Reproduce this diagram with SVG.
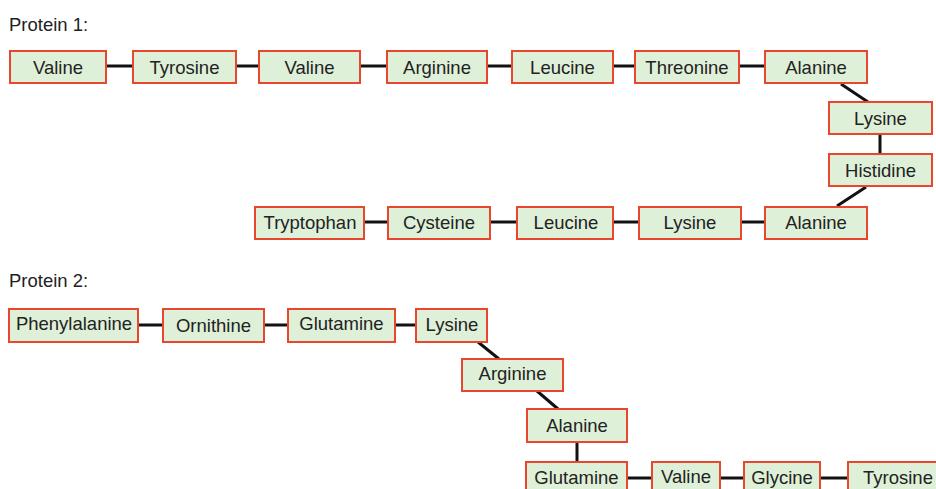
<svg xmlns="http://www.w3.org/2000/svg" width="936" height="489" viewBox="0 0 936 489">
<style>
.n rect{fill:#dff0d8;stroke:#e8472e;stroke-width:2}
.n text{font-family:"Liberation Sans",Arial,sans-serif;font-size:18.5px;fill:#222;text-anchor:middle;dominant-baseline:central}
.lbl{font-family:"Liberation Sans",Arial,sans-serif;font-size:18.5px;fill:#222}
#edges line{stroke:#111;stroke-width:3}
</style>
<rect width="936" height="489" fill="#fff"/>
<text class="lbl" x="9" y="31">Protein 1:</text>
<text class="lbl" x="9" y="287">Protein 2:</text>
<g id="edges">
<line x1="106" y1="66" x2="133" y2="66"/>
<line x1="236" y1="66" x2="259" y2="66"/>
<line x1="360" y1="66" x2="387" y2="66"/>
<line x1="487" y1="66" x2="512" y2="66"/>
<line x1="613" y1="66" x2="635" y2="66"/>
<line x1="739" y1="66" x2="765" y2="66"/>
<line x1="841" y1="84" x2="868" y2="102"/>
<line x1="880" y1="134" x2="880" y2="153"/>
<line x1="866" y1="187" x2="837" y2="206"/>
<line x1="741" y1="222" x2="765" y2="222"/>
<line x1="613" y1="222" x2="639" y2="222"/>
<line x1="490" y1="222" x2="517" y2="222"/>
<line x1="364" y1="222" x2="388" y2="222"/>
<line x1="138" y1="325" x2="163" y2="325"/>
<line x1="264" y1="325" x2="288" y2="325"/>
<line x1="395" y1="325" x2="416" y2="325"/>
<line x1="478" y1="342" x2="499" y2="359"/>
<line x1="537" y1="391" x2="558" y2="409"/>
<line x1="577" y1="442" x2="577" y2="462"/>
<line x1="627" y1="478" x2="652" y2="478"/>
<line x1="720" y1="478" x2="744" y2="478"/>
<line x1="820" y1="478" x2="848" y2="478"/>
</g>
<g id="p1-valine1" class="n"><rect x="10" y="51" width="96" height="32"/><text x="58" y="67">Valine</text></g>
<g id="p1-tyrosine" class="n"><rect x="133" y="51" width="103" height="32"/><text x="184.5" y="67">Tyrosine</text></g>
<g id="p1-valine2" class="n"><rect x="259" y="51" width="101" height="32"/><text x="309.5" y="67">Valine</text></g>
<g id="p1-arginine" class="n"><rect x="387" y="51" width="100" height="32"/><text x="437" y="67">Arginine</text></g>
<g id="p1-leucine1" class="n"><rect x="512" y="51" width="101" height="32"/><text x="562.5" y="67">Leucine</text></g>
<g id="p1-threonine" class="n"><rect x="635" y="51" width="104" height="32"/><text x="687" y="67">Threonine</text></g>
<g id="p1-alanine1" class="n"><rect x="765" y="51" width="102" height="32"/><text x="816" y="67">Alanine</text></g>
<g id="p1-lysine1" class="n"><rect x="829" y="102" width="103" height="32"/><text x="880.5" y="118">Lysine</text></g>
<g id="p1-histidine" class="n"><rect x="829" y="154" width="103" height="32"/><text x="880.5" y="170">Histidine</text></g>
<g id="p1-alanine2" class="n"><rect x="765" y="207" width="102" height="32"/><text x="816" y="222">Alanine</text></g>
<g id="p1-lysine2" class="n"><rect x="639" y="207" width="102" height="32"/><text x="690" y="222">Lysine</text></g>
<g id="p1-leucine2" class="n"><rect x="517" y="207" width="96" height="32"/><text x="566" y="222">Leucine</text></g>
<g id="p1-cysteine" class="n"><rect x="388" y="207" width="102" height="32"/><text x="439" y="222">Cysteine</text></g>
<g id="p1-tryptophan" class="n"><rect x="255" y="207" width="109" height="32"/><text x="310" y="222">Tryptophan</text></g>
<g id="p2-phenylalanine" class="n"><rect x="9" y="309" width="129" height="33"/><text x="74" y="323">Phenylalanine</text></g>
<g id="p2-ornithine" class="n"><rect x="163" y="309" width="101" height="33"/><text x="213.5" y="325">Ornithine</text></g>
<g id="p2-glutamine1" class="n"><rect x="288" y="309" width="107" height="33"/><text x="341.5" y="323">Glutamine</text></g>
<g id="p2-lysine" class="n"><rect x="416" y="309" width="71" height="33"/><text x="452" y="324">Lysine</text></g>
<g id="p2-arginine" class="n"><rect x="462" y="359" width="101" height="32"/><text x="512.5" y="373">Arginine</text></g>
<g id="p2-alanine" class="n"><rect x="527" y="409" width="100" height="33"/><text x="577" y="425">Alanine</text></g>
<g id="p2-glutamine2" class="n"><rect x="526" y="462" width="101" height="33"/><text x="576.5" y="477">Glutamine</text></g>
<g id="p2-valine" class="n"><rect x="652" y="462" width="68" height="33"/><text x="686" y="476">Valine</text></g>
<g id="p2-glycine" class="n"><rect x="744" y="462" width="76" height="33"/><text x="782" y="477">Glycine</text></g>
<g id="p2-tyrosine" class="n"><rect x="848" y="462" width="100" height="33"/><text x="898" y="477">Tyrosine</text></g>
</svg>
